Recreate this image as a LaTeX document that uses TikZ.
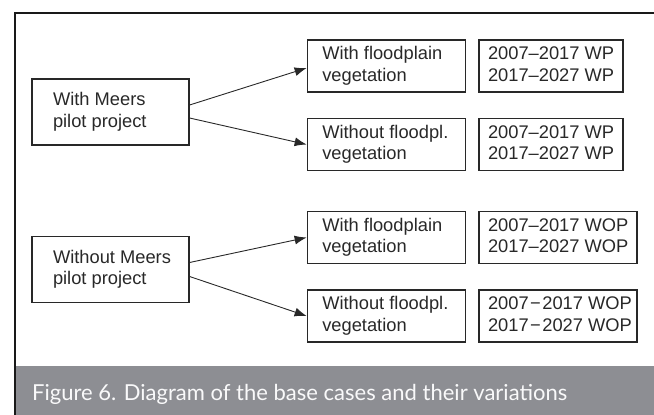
\documentclass[tikz,border=0pt]{standalone}
\usepackage{graphicx}
\usepackage{fontspec}
\setmainfont{Liberation Sans}
\newfontfamily\capfont{Lato}
\usetikzlibrary{arrows.meta}
\definecolor{band}{RGB}{141,142,147}
\definecolor{ink}{RGB}{40,40,40}
\newcommand{\celltext}[3]{\makebox[#1][l]{\begin{tabular}{@{}l@{}}#2\\#3\end{tabular}}}
\begin{document}
\begin{tikzpicture}[x=1pt,y=-1pt,
  box/.style={draw=ink, line width=1.2pt, inner ysep=0pt, minimum height=52pt, text=ink,
    font=\fontsize{18.3}{21.5}\selectfont},
  leftbox/.style={box, inner xsep=21pt, minimum height=66pt},
  midbox/.style={box, inner xsep=15pt},
  yearbox/.style={box, inner xsep=9pt},
  arr/.style={draw=ink, line width=0.9pt, -{Latex[length=12pt,width=9pt]}}
]
\useasboundingbox (0,0) rectangle (654,415);
% caption band
\fill[band] (14,366) rectangle (660,420);
\node[anchor=base west, inner sep=0pt, text=white!95!band] (cap) at (32,400)
  {\resizebox{535pt}{!}{\capfont Figure 6. Diagram of the base cases and their variations}};
% frame
\draw[line width=2.2pt, black!90] (15,420) -- (15,12.7) -- (660,12.7);

% left boxes
\node[leftbox] (L1) at (110.5,112) {\celltext{115pt}{With Meers}{pilot project}};
\node[leftbox] (L2) at (110.5,269.5) {\celltext{115pt}{Without Meers}{pilot project}};

% middle boxes
\node[midbox] (M1) at (386.5,66) {\celltext{128.5pt}{With floodplain}{vegetation}};
\node[midbox] (M2) at (386.5,144.5) {\celltext{128.5pt}{Without floodpl.}{vegetation}};
\node[midbox] (M3) at (386.5,237.5) {\celltext{128.5pt}{With floodplain}{vegetation}};
\node[midbox] (M4) at (386.5,316) {\celltext{128.5pt}{Without floodpl.}{vegetation}};

% year boxes
\node[yearbox] (Y1) at (551,66) {\celltext{126pt}{2007–2017 WP}{2017–2027 WP}};
\node[yearbox] (Y2) at (551,144.5) {\celltext{126pt}{2007–2017 WP}{2017–2027 WP}};
\node[yearbox] (Y3) at (558,237.5) {\celltext{140pt}{2007–2017 WOP}{2017–2027 WOP}};
\node[yearbox] (Y4) at (558,316) {\celltext{140pt}{2007\kern1.5pt−\kern1.5pt2017 WOP}{2017\kern1.5pt−\kern1.5pt2027 WOP}};

% arrows
\draw[arr] ([yshift=7pt]L1.east) -- ([yshift=-2pt]M1.west);
\draw[arr] ([yshift=-6pt]L1.east) -- (M2.west);
\draw[arr] ([yshift=7pt]L2.east) -- (M3.west);
\draw[arr] ([yshift=-7pt]L2.east) -- (M4.west);
\end{tikzpicture}
\end{document}
